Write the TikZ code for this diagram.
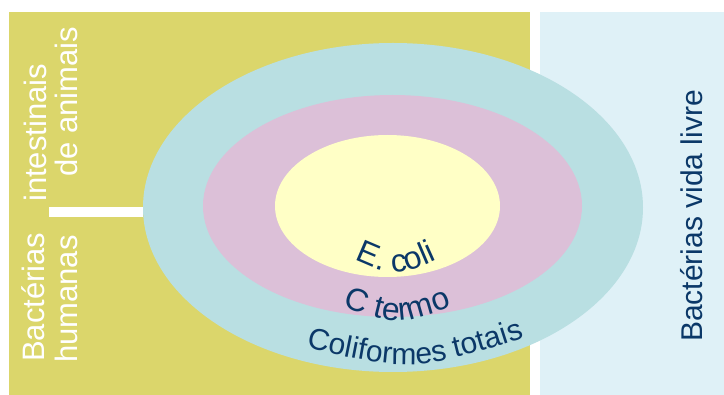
\documentclass[tikz,border=0pt]{standalone}
\usepackage{fontspec}
\setmainfont{Liberation Sans}
\usepackage{xcolor}
\usepackage{tikz}
\usetikzlibrary{decorations.text}
\definecolor{gut}{HTML}{DBD66B}
\definecolor{free}{HTML}{DFF1F7}
\definecolor{ctot}{HTML}{B9DFE2}
\definecolor{cterm}{HTML}{DCC0D8}
\definecolor{ecol}{HTML}{FFFFC6}
\definecolor{ink}{HTML}{0B3868}
\newcommand{\lbl}{\color{ink}\fontsize{32}{36}\selectfont}
\newcommand{\lblsm}{\color{ink}\fontsize{30}{36}\selectfont}

\begin{document}
\begin{tikzpicture}[x=1pt,y=-1pt,
  side/.style={font=\fontsize{31}{33}\selectfont,rotate=90,inner sep=0pt,anchor=base west},
  arclbl/.style={decorate,decoration={text along path,text align=center}}]
\useasboundingbox (0,0) rectangle (724,395);
% panels
\fill[gut] (9,12) rectangle (530,395);
\fill[free] (540,12) rectangle (724,395);
\fill[white] (49,207) rectangle (143,217);
% nested groups
\fill[ctot] (393,207.5) ellipse [x radius=250pt,y radius=164.5pt];
\fill[cterm] (392.5,206) ellipse [x radius=189.5pt,y radius=111pt];
\fill[ecol] (387.5,206) ellipse [x radius=112.5pt,y radius=71pt];
% side labels
\node[side,text=white] (bact) at (44,362) {Bactérias};
\node[side,text=white] (human) at (77,363) {humanas};
\node[side,text=white] (intest) at (46,202) {intestinais};
\node[side,text=white] (animal) at (77,177) {de animais};
\node[side,font=\fontsize{30}{33}\selectfont,text=ink,anchor=base] (livre) at (702,216) {Bactérias vida livre};
% curved labels
\path[arclbl,decoration={text={|\lbl|E. coli}}] (340,253) .. controls (396,279) .. (452,253);
\path[arclbl,decoration={text={|\lbl|C termo}}] (322,298) .. controls (397,328) .. (472,298);
\path[arclbl,decoration={text={|\lblsm|Coliformes totais}}] (280,341.6) .. controls (415,373.6) .. (550,329.1);
\end{tikzpicture}
\end{document}
